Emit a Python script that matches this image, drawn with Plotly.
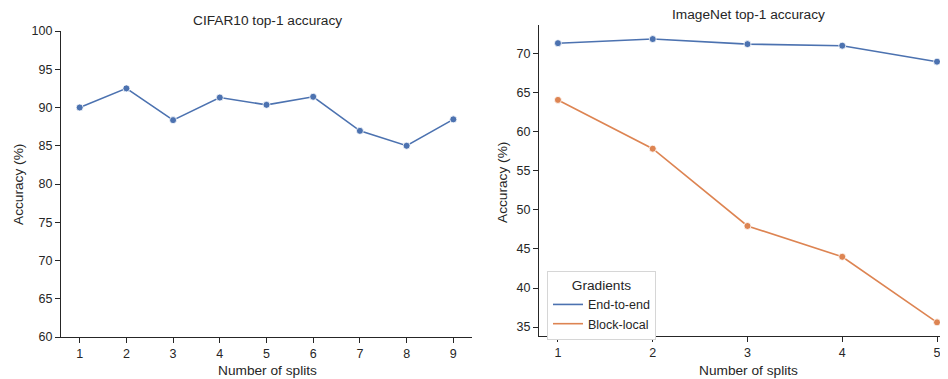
import plotly.graph_objects as go

W, H = 948, 379
OFF = 8  # page body margin offset

cifar_splits = [1, 2, 3, 4, 5, 6, 7, 8, 9]
cifar_acc = [90.0, 92.5, 88.35, 91.3, 90.35, 91.4, 86.95, 85.0, 88.45]

imagenet_splits = [1, 2, 3, 4, 5]
e2e_acc = [71.37, 71.9, 71.25, 71.05, 69.0]
local_acc = [64.1, 57.85, 47.95, 44.0, 35.6]

BLUE = "#4C72B0"
ORANGE = "#DD8452"
TXT = "#262626"
FONT = "Liberation Sans, Arial, sans-serif"
TICK_SZ = 12.5
LAB_SZ = 13.7

def px(x):
    return (x - OFF) / W

def py(y):
    return 1 - (y - OFF) / H

fig = go.Figure()

mk = dict(size=7, line=dict(color="white", width=0.8))

fig.add_trace(go.Scatter(x=cifar_splits, y=cifar_acc, mode="lines+markers",
                         line=dict(color=BLUE, width=1.6), marker=dict(color=BLUE, **mk),
                         showlegend=False, xaxis="x", yaxis="y", cliponaxis=False))
fig.add_trace(go.Scatter(x=imagenet_splits, y=e2e_acc, mode="lines+markers",
                         line=dict(color=BLUE, width=1.6), marker=dict(color=BLUE, **mk),
                         showlegend=False, xaxis="x2", yaxis="y2", cliponaxis=False))
fig.add_trace(go.Scatter(x=imagenet_splits, y=local_acc, mode="lines+markers",
                         line=dict(color=ORANGE, width=1.6), marker=dict(color=ORANGE, **mk),
                         showlegend=False, xaxis="x2", yaxis="y2", cliponaxis=False))
# legend-only entries (lines only, as in the reference)
fig.add_trace(go.Scatter(x=[None], y=[None], mode="lines", name="End-to-end",
                         line=dict(color=BLUE, width=1.6), xaxis="x2", yaxis="y2"))
fig.add_trace(go.Scatter(x=[None], y=[None], mode="lines", name="Block-local",
                         line=dict(color=ORANGE, width=1.6), xaxis="x2", yaxis="y2"))

axis_common = dict(showline=True, linecolor=TXT, linewidth=1.25, ticks="outside",
                   ticklen=5, tickwidth=1.25, tickcolor=TXT, showgrid=False, zeroline=False,
                   automargin=False,
                   tickfont=dict(family=FONT, size=TICK_SZ, color=TXT))

fig.update_layout(
    template="none",
    width=W, height=H, margin=dict(l=0, r=0, t=0, b=0, pad=0, autoexpand=False),
    paper_bgcolor="white", plot_bgcolor="white",
    font=dict(family=FONT, color=TXT),
    xaxis=dict(domain=[px(61), px(472)], range=[0.6, 9.4], anchor="y",
               tickvals=cifar_splits, **axis_common),
    yaxis=dict(domain=[py(337), py(31)], range=[60, 100], anchor="x",
               tickvals=[60, 65, 70, 75, 80, 85, 90, 95, 100], **axis_common),
    xaxis2=dict(domain=[px(539), px(948)], range=[0.8, 5.116], anchor="y2",
                tickvals=imagenet_splits, **axis_common),
    yaxis2=dict(domain=[py(336), py(25)], range=[33.85, 73.7], anchor="x2",
                tickvals=[35, 40, 45, 50, 55, 60, 65, 70], **axis_common),
    legend=dict(x=px(547), y=py(271), xanchor="left", yanchor="top",
                bgcolor="white", bordercolor="#d6d6d6", borderwidth=1,
                font=dict(family=FONT, size=TICK_SZ, color=TXT),
                title=dict(text="Gradients", side="top center",
                           font=dict(family=FONT, size=LAB_SZ, color=TXT)),
                itemwidth=30, tracegroupgap=0),
)

ann = [
    ("CIFAR10 top-1 accuracy", 267, 20, 0),
    ("ImageNet top-1 accuracy", 748, 14, 0),
    ("Number of splits", 267, 370, 0),
    ("Number of splits", 748, 370, 0),
    ("Accuracy (%)", 18, 185, -90),
    ("Accuracy (%)", 502, 182, -90),
]
for text, x, y, ang in ann:
    fig.add_annotation(text=text, x=px(x), y=py(y), xref="paper", yref="paper",
                       xanchor="center", yanchor="middle", showarrow=False, textangle=ang,
                       font=dict(family=FONT, size=LAB_SZ, color=TXT))

fig.write_html("out.html")
